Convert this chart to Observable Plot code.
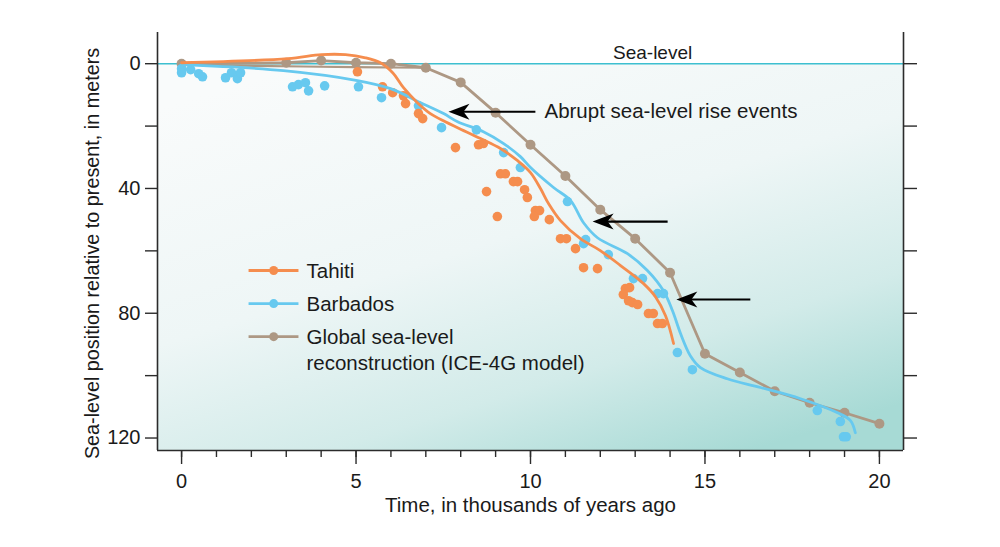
<!DOCTYPE html>
<html>
<head>
<meta charset="utf-8">
<script src="https://cdn.jsdelivr.net/npm/d3@7"></script>
<script src="https://cdn.jsdelivr.net/npm/@observablehq/plot@0.6"></script>
<style>
  html, body { margin: 0; padding: 0; background: #ffffff; }
  #chart { width: 1000px; height: 547px; }
</style>
</head>
<body>
<div id="chart"></div>
<script>
// ---- Data (time in thousands of years ago, depth in metres below present) ----
const seriesNames = ["Tahiti", "Barbados", "Global sea-level\nreconstruction (ICE-4G model)"];
const seriesColors = ["#f58d4e", "#67c9ef", "#ad9884"];

const tahitiCurve = [
  [0,-0.3],[3.04,-1.6],[4.01,-2.9],[4.7,-2.9],[5.27,-1.9],[5.7,-0.3],[6.05,2.9],
  [6.36,7.7],[6.76,12.5],[7.13,16.0],[7.56,18.6],[7.91,20.5],[8.57,24.0],[9.14,27.2],
  [9.63,31.1],[10.0,34.9],[10.29,40.1],[10.52,44.9],[10.86,50.3],[11.43,56.1],
  [12.0,59.9],[12.58,64.7],[13.24,70.5],[13.58,74.7],[13.87,80.8],[14.1,89.7]
];
const tahitiDots = [
  [5.04,2.6],[5.76,7.4],[6.05,9.3],[6.36,10.3],[6.42,12.8],[6.79,16.0],[6.91,17.6],
  [7.85,26.9],[8.51,26.0],[8.65,25.6],[8.74,41.0],[9.05,49.0],[9.14,35.3],[9.28,35.3],
  [9.51,37.8],[9.63,37.8],[9.83,40.4],[9.91,42.9],[10.14,47.1],[10.26,47.1],[10.11,49.0],
  [10.54,50.0],[10.86,56.1],[11.03,56.1],[11.29,59.3],[11.52,65.4],[11.92,65.7],
  [12.72,72.1],[12.84,71.8],[12.66,74.0],[12.81,76.0],[12.92,76.6],[13.07,77.2],
  [13.38,80.1],[13.52,80.1],[13.64,83.3],[13.78,83.3]
];
const barbadosCurve = [
  [0,0.3],[2.92,2.2],[5.04,5.4],[5.99,8.0],[6.85,12.5],[7.51,16.0],[7.91,18.6],
  [8.65,21.8],[9.23,25.6],[9.71,29.8],[10.0,33.3],[10.66,39.7],[11.15,43.9],[11.52,51.0],
  [11.92,55.8],[12.78,60.9],[13.35,66.3],[13.81,72.8],[14.07,79.2],[14.3,86.5],
  [14.58,93.6],[14.87,97.4],[15.64,101.0],[16.59,103.8],[17.74,107.4],[18.8,111.9],
  [19.17,114.4],[19.31,118.3]
];
const barbadosDots = [
  [0,1.6],[0,2.9],[0.26,1.9],[0.49,3.2],[0.6,4.2],[1.26,4.5],[1.43,2.9],[1.6,4.8],[1.69,2.9],
  [3.18,7.4],[3.35,6.7],[3.55,6.1],[3.64,8.7],[4.1,7.1],[5.07,7.4],[5.73,10.9],[6.79,13.5],
  [7.45,20.5],[8.45,21.2],[9.23,28.5],[9.71,33.3],[11.06,44.2],[11.52,57.7],[11.58,56.4],
  [12.23,61.2],[12.95,68.9],[13.21,68.9],[13.64,73.7],[13.81,73.7],[14.21,92.6],[14.64,98.1],
  [18.22,111.2],[18.88,114.7],[18.97,119.6],[19.05,119.6]
];
const ice4g = [
  [0,0],[3,-0.3],[4,-1.0],[5,-0.3],[6,0],[7,1.3],[8,6.0],[9,15.7],[10,26.0],[11,36.0],
  [12,46.8],[13,56.1],[14,67.0],[15,93.0],[16,99.0],[17,105.0],[18,108.7],[19,111.9],[20,115.4]
];
const ice4gLower = [[0,0.3],[3.5,0.9],[7,1.3]];

const xTicksMajor = [0, 5, 10, 15, 20];
const xTicksMinor = d3.range(0, 21, 1);
const yTicks = [0, 20, 40, 60, 80, 100, 120];
const yTickLabels = [0, 40, 80, 120];

const xTitle = "Time, in thousands of years ago";
const yTitle = "Sea-level position relative to present, in meters";
const seaLevelLabel = "Sea-level";
const annotationLabel = "Abrupt sea-level rise events";
const arrowsData = [
  {x1: 10.14, x2: 7.65, y: 15.4},
  {x1: 13.93, x2: 11.78, y: 50.6},
  {x1: 16.3, x2: 14.18, y: 75.6}
];

// ---- Build ----
const xDomain = [-0.69, 20.69];
const yDomain = [-10, 124];
const toObj = arr => arr.map(([t, d]) => ({t, d}));
const legend = seriesNames.map((label, i) => ({label, color: seriesColors[i], y: [66.3, 76.9, 87.5][i]}));

const arrowHead = {
  draw(ctx) {
    ctx.moveTo(0, 0);
    ctx.lineTo(21, -8);
    ctx.lineTo(15, 0);
    ctx.lineTo(21, 8);
    ctx.closePath();
  }
};

const axisStroke = "#2b2b2b";
const svg = Plot.plot({
  width: 1000,
  height: 547,
  marginLeft: 157,
  marginRight: 97,
  marginTop: 32,
  marginBottom: 97,
  x: {domain: xDomain},
  y: {domain: yDomain, reverse: true},
  style: {fontFamily: "'Liberation Sans', Arial, Helvetica, sans-serif", fontSize: "20px", color: "#1a1a1a", background: "transparent"},
  marks: [
    Plot.rect([0], {x1: xDomain[0], x2: xDomain[1], y1: 0, y2: yDomain[1], fill: "url(#bgGrad)"}),
    Plot.ruleY([0], {stroke: "#3dbfd0", strokeWidth: 1.6}),
    // frame
    Plot.ruleX(xDomain, {stroke: axisStroke, strokeWidth: 1.6}),
    Plot.ruleY([yDomain[1]], {stroke: axisStroke, strokeWidth: 1.6}),
    // axes
    Plot.axisX({ticks: xTicksMinor, tickSize: 7, tickFormat: () => "", stroke: axisStroke, strokeWidth: 1.4, label: null}),
    Plot.axisX({ticks: xTicksMajor, tickSize: 14, tickPadding: 9, fontSize: 20, stroke: axisStroke, strokeWidth: 1.4, label: null}),
    Plot.axisY({ticks: yTicks, tickSize: 12, tickPadding: 5, fontSize: 20, stroke: axisStroke, strokeWidth: 1.4,
      tickFormat: d => yTickLabels.includes(d) ? String(d) : "", label: null}),
    Plot.axisY({anchor: "right", ticks: yTicks, tickSize: 13, tickFormat: () => "", stroke: axisStroke, strokeWidth: 1.4, label: null}),
    Plot.text([xTitle], {frameAnchor: "bottom", dy: 61, fontSize: 20.5}),
    Plot.text([yTitle], {frameAnchor: "left", textAnchor: "middle", dx: -65, dy: 12, rotate: -90, fontSize: 19.8}),
    Plot.text([seaLevelLabel], {x: 13.5, y: 0, dy: -11, fontSize: 19}),
    // ICE-4G
    Plot.line(toObj(ice4gLower), {x: "t", y: "d", stroke: seriesColors[2], strokeWidth: 2.2, curve: "catmull-rom"}),
    Plot.line(toObj(ice4g), {x: "t", y: "d", stroke: seriesColors[2], strokeWidth: 2.8}),
    Plot.dot(toObj(ice4g), {x: "t", y: "d", fill: seriesColors[2], r: 5}),
    // dots
    Plot.dot(toObj(barbadosDots), {x: "t", y: "d", fill: seriesColors[1], r: 4.8}),
    Plot.dot(toObj(tahitiDots), {x: "t", y: "d", fill: seriesColors[0], r: 4.8}),
    // curves
    Plot.line(toObj(barbadosCurve), {x: "t", y: "d", stroke: seriesColors[1], strokeWidth: 2.8, curve: "catmull-rom"}),
    Plot.line(toObj(tahitiCurve), {x: "t", y: "d", stroke: seriesColors[0], strokeWidth: 2.8, curve: "catmull-rom"}),
    // annotation
    Plot.text([annotationLabel], {x: 10.4, y: 15.4, textAnchor: "start", fontSize: 20.5}),
    Plot.link(arrowsData, {x1: "x1", x2: d => d.x2 + 0.3, y1: "y", y2: "y", stroke: "#000", strokeWidth: 2.2}),
    Plot.dot(arrowsData, {x: "x2", y: "y", symbol: arrowHead, fill: "#000", stroke: "none", r: 5}),
    // legend
    Plot.link(legend, {x1: 1.92, x2: 3.35, y1: "y", y2: "y", stroke: d => d.color, strokeWidth: 2.8}),
    Plot.dot(legend, {x: 2.64, y: "y", fill: d => d.color, r: 4.5}),
    Plot.text(legend, {x: 3.58, y: "y", text: "label", textAnchor: "start", lineAnchor: "top", dy: -11.5, lineHeight: 1.27, fontSize: 20.5})
  ]
});

const defs = d3.select(svg).insert("defs", ":first-child");
const grad = defs.append("linearGradient").attr("id", "bgGrad")
  .attr("x1", 0.2).attr("y1", 0).attr("x2", 0.8).attr("y2", 1);
grad.append("stop").attr("offset", 0).attr("stop-color", "#f9fbfb");
grad.append("stop").attr("offset", 0.45).attr("stop-color", "#eef6f6");
grad.append("stop").attr("offset", 0.75).attr("stop-color", "#d2ebe9");
grad.append("stop").attr("offset", 1).attr("stop-color", "#a7dad5");

document.getElementById("chart").appendChild(svg);
</script>
</body>
</html>
